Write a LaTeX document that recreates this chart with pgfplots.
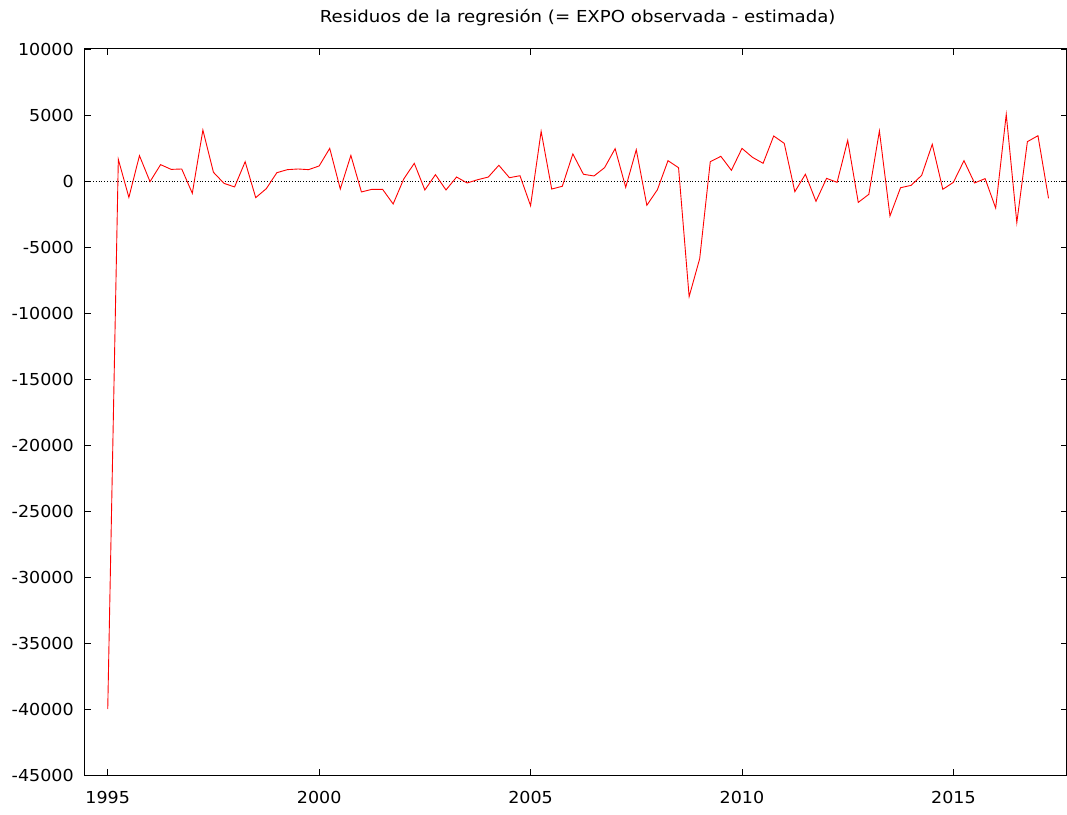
\documentclass[border=0pt]{standalone}
\usepackage{pgfplots}
\pgfplotsset{compat=1.18}
\usepackage{fontspec}
\setmainfont[FakeStretch=1.06]{DejaVu Sans}
\newfontfamily\titlefont[FakeStretch=1.1]{DejaVu Sans}
\begin{document}
\begin{tikzpicture}[x=1pt,y=1pt]
\begin{axis}[
  at={(0,0)}, anchor=south west,
  scale only axis,
  width=982pt, height=726pt,
  xmin=1994.455, xmax=2017.68,
  ymin=-45000, ymax=10000,
  xtick={1995,2000,2005,2010,2015},
  ytick={-45000,-40000,-35000,-30000,-25000,-20000,-15000,-10000,-5000,0,5000,10000},
  scaled ticks=false,
  /pgf/number format/1000 sep={},
  /pgf/number format/assume math mode=true,
  tick align=inside,
  major tick length=6pt,
  tick style={black, line width=0.8pt},
  axis line style={black, line width=1pt},
  ticklabel style={font=\fontsize{16.5}{18}\selectfont},
  yticklabel style={anchor=east, xshift=-7.5pt},
  xticklabel style={anchor=north, yshift=-13pt},
  clip=false,
]
\addplot[black, dotted, line width=0.8pt, forget plot] coordinates {(1994.455,0) (2017.68,0)};
\addplot[red, line width=0.9pt, mark=none] table[x expr={1995+\thisrow{k}/4}, y=v] {
k v
0 -40000
1 1640
2 -1240
3 1920
4 -50
5 1240
6 880
7 910
8 -930
9 3860
10 660
11 -180
12 -450
13 1460
14 -1260
15 -580
16 630
17 860
18 910
19 860
20 1140
21 2470
22 -610
23 1940
24 -830
25 -630
26 -630
27 -1740
28 150
29 1340
30 -680
31 480
32 -680
33 300
34 -150
35 100
36 300
37 1190
38 250
39 400
40 -1870
41 3760
42 -610
43 -400
44 2050
45 510
46 380
47 1010
48 2450
49 -480
50 2370
51 -1840
52 -660
53 1540
54 1010
55 -8760
56 -5880
57 1460
58 1870
59 810
60 2470
61 1790
62 1340
63 3410
64 2850
65 -810
66 510
67 -1540
68 200
69 -100
70 3080
71 -1620
72 -1010
73 3790
74 -2650
75 -510
76 -330
77 430
78 2780
79 -630
80 -100
81 1540
82 -150
83 180
84 -2050
85 5050
86 -3150
87 2980
88 3430
89 -1310
};
\end{axis}
\node[anchor=base, font=\titlefont\fontsize{16.5}{18}\selectfont] at (493,752) {Residuos de la regresión (= EXPO observada - estimada)};
\pgfresetboundingbox
\path (-84.7,-39) rectangle (982.3,775);
\end{tikzpicture}
\end{document}
